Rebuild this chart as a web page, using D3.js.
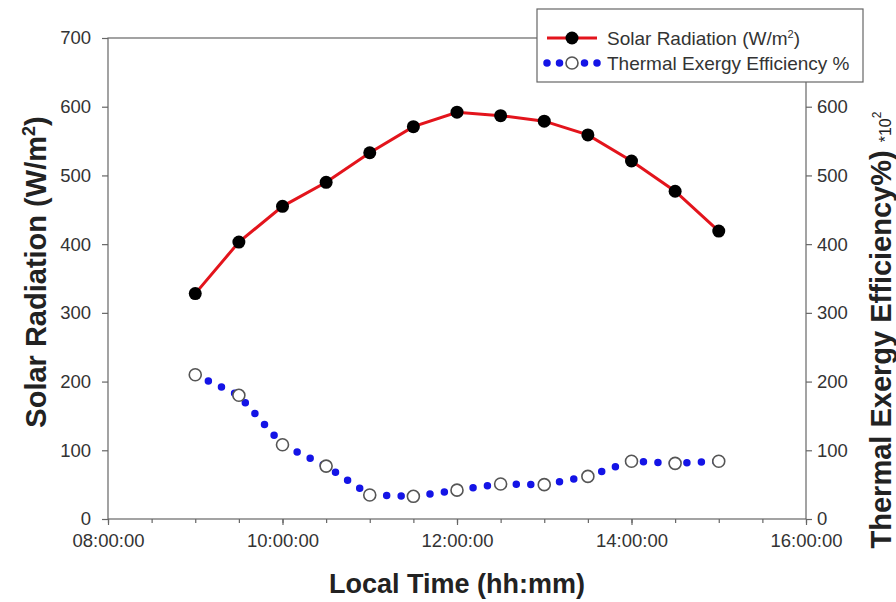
<!DOCTYPE html>
<html>
<head>
<meta charset="utf-8">
<script src="https://cdn.jsdelivr.net/npm/d3@7"></script>
<style>
  body { margin: 0; background: #fff; }
  text { font-family: "Liberation Sans", Arial, sans-serif; }
</style>
</head>
<body>
<script>
// values
const times = ["09:00", "09:30", "10:00", "10:30", "11:00", "11:30", "12:00",
  "12:30", "13:00", "13:30", "14:00", "14:30", "15:00"];
const solarRadiation = [328, 403, 455, 490, 533, 571, 592, 587, 579, 559, 521, 477, 419];
const exergyEfficiency = [210, 180, 108, 77, 35, 33, 42, 51, 50, 62, 84, 81, 84];
const xTickLabels = ["08:00", "10:00", "12:00", "14:00", "16:00"];
const leftTicks = [0, 100, 200, 300, 400, 500, 600, 700];
const rightTicks = [0, 100, 200, 300, 400, 500, 600];

const width = 896, height = 602;
const margin = { left: 108, right: 90, top: 38, bottom: 83 };
const parse = d3.timeParse("%H:%M");

const svg = d3.select("body").append("svg")
  .attr("width", width)
  .attr("height", height);

//escalas
const x = d3.scaleTime()
  .domain([parse("08:00"), parse("16:00")])
  .range([margin.left, width - margin.right]);
const y = d3.scaleLinear()
  .domain([0, 700])
  .range([height - margin.bottom, margin.top]);

const frameColor = "#666";
const labelColor = "#333";

//marco del grafico
svg.append("rect")
  .attr("x", x.range()[0])
  .attr("y", y(700))
  .attr("width", x.range()[1] - x.range()[0])
  .attr("height", y(0) - y(700))
  .attr("fill", "none")
  .attr("stroke", frameColor)
  .attr("stroke-width", 1.2);

//ejes
const xAxis = d3.axisBottom(x)
  .tickValues(xTickLabels.map(parse))
  .tickFormat(d3.timeFormat("%H:%M:%S"))
  .tickSize(6).tickSizeOuter(0);
const xMinor = d3.axisBottom(x)
  .ticks(d3.timeMinute.every(30))
  .tickFormat("")
  .tickSize(4).tickSizeOuter(0);

const gxMinor = svg.append("g")
  .attr("transform", "translate(0," + y(0) + ")")
  .call(xMinor);
const gx = svg.append("g")
  .attr("transform", "translate(0," + y(0) + ")")
  .call(xAxis);

const gyl = svg.append("g")
  .attr("transform", "translate(" + x.range()[0] + ",0)")
  .call(d3.axisLeft(y).tickValues(leftTicks).tickSize(6).tickSizeOuter(0).tickPadding(11));
const gyr = svg.append("g")
  .attr("transform", "translate(" + x.range()[1] + ",0)")
  .call(d3.axisRight(y).tickValues(rightTicks).tickSize(6).tickSizeOuter(0).tickPadding(5));

[gx, gxMinor, gyl, gyr].forEach(g => {
  g.select(".domain").remove();
  g.selectAll("line").attr("stroke", frameColor).attr("stroke-width", 1.2);
  g.selectAll("text")
    .attr("fill", labelColor)
    .style("font-family", "Liberation Sans, Arial, sans-serif")
    .style("font-size", "18.5px");
});
gx.selectAll("text").attr("dy", "1.05em");

//titulos
svg.append("text")
  .attr("x", (x.range()[0] + x.range()[1]) / 2)
  .attr("y", 593)
  .attr("text-anchor", "middle")
  .attr("fill", "#222")
  .style("font-weight", "bold")
  .style("font-size", "27px")
  .text("Local Time (hh:mm)");

const leftTitle = svg.append("text")
  .attr("transform", "translate(46," + 272 + ") rotate(-90)")
  .attr("text-anchor", "middle")
  .attr("fill", "#222")
  .style("font-weight", "bold")
  .style("font-size", "29px");
leftTitle.append("tspan").text("Solar Radiation (W/m");
leftTitle.append("tspan").attr("dy", -11).style("font-size", "18px").text("2");
leftTitle.append("tspan").attr("dy", 11).text(")");

const rightTitle = svg.append("text")
  .attr("transform", "translate(891," + 330 + ") rotate(-90)")
  .attr("text-anchor", "middle")
  .attr("fill", "#222")
  .style("font-weight", "bold")
  .style("font-size", "29px");
rightTitle.append("tspan").text("Thermal Exergy Efficiency%) ");
rightTitle.append("tspan").style("font-size", "16px").style("font-weight", "normal").text("*10");
rightTitle.append("tspan").attr("dy", -10).style("font-size", "12px").style("font-weight", "normal").text("2");

//series
const pts = times.map((t, i) => ({ t: parse(t), s: solarRadiation[i], e: exergyEfficiency[i] }));

const redLine = d3.line().x(d => x(d.t)).y(d => y(d.s));
const blueLine = d3.line().x(d => x(d.t)).y(d => y(d.e));

svg.append("path")
  .datum(pts)
  .attr("d", blueLine)
  .attr("fill", "none")
  .attr("stroke", "#1414e6")
  .attr("stroke-width", 7.5)
  .attr("stroke-linecap", "round")
  .attr("stroke-dasharray", "0,14.5");

svg.selectAll(".eff")
  .data(pts)
  .enter()
  .append("circle")
  .attr("class", "eff")
  .attr("cx", d => x(d.t))
  .attr("cy", d => y(d.e))
  .attr("r", 6)
  .attr("fill", "#fff")
  .attr("stroke", "#555")
  .attr("stroke-width", 1.6);

svg.append("path")
  .datum(pts)
  .attr("d", redLine)
  .attr("fill", "none")
  .attr("stroke", "#e3141c")
  .attr("stroke-width", 3);

svg.selectAll(".sol")
  .data(pts)
  .enter()
  .append("circle")
  .attr("class", "sol")
  .attr("cx", d => x(d.t))
  .attr("cy", d => y(d.s))
  .attr("r", 6.5)
  .attr("fill", "#000");

//leyenda
const lg = svg.append("g").attr("transform", "translate(537,9)");
lg.append("rect")
  .attr("width", 326).attr("height", 73)
  .attr("fill", "#fff")
  .attr("stroke", frameColor)
  .attr("stroke-width", 1.2);

lg.append("line")
  .attr("x1", 10).attr("x2", 60).attr("y1", 29).attr("y2", 29)
  .attr("stroke", "#e3141c").attr("stroke-width", 3);
lg.append("circle").attr("cx", 35).attr("cy", 29).attr("r", 6.5).attr("fill", "#000");
const t1 = lg.append("text").attr("x", 70).attr("y", 36)
  .attr("fill", labelColor).style("font-size", "19px");
t1.append("tspan").text("Solar Radiation (W/m");
t1.append("tspan").attr("dy", -7).style("font-size", "11px").text("2");
t1.append("tspan").attr("dy", 7).text(")");

lg.append("line")
  .attr("x1", 10).attr("x2", 62).attr("y1", 54).attr("y2", 54)
  .attr("stroke", "#1414e6").attr("stroke-width", 7.5)
  .attr("stroke-linecap", "round")
  .attr("stroke-dasharray", "0,12.5");
lg.append("circle").attr("cx", 35).attr("cy", 54).attr("r", 6)
  .attr("fill", "#fff").attr("stroke", "#555").attr("stroke-width", 1.6);
lg.append("text").attr("x", 70).attr("y", 61)
  .attr("fill", labelColor).style("font-size", "19px")
  .text("Thermal Exergy Efficiency %");
</script>
</body>
</html>
